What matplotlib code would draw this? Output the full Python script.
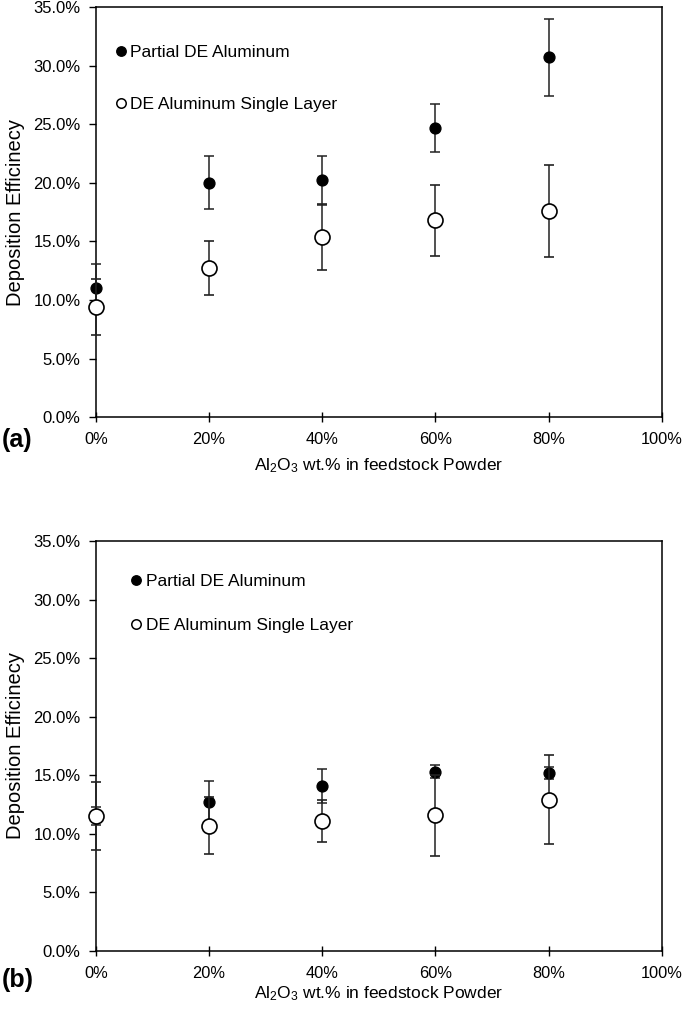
import numpy as np
import matplotlib
matplotlib.use("Agg")
import matplotlib.pyplot as plt
from matplotlib.ticker import FuncFormatter
from matplotlib.lines import Line2D

plt.rcParams['font.family'] = ['Liberation Sans', 'DejaVu Sans']
plt.rcParams['mathtext.fontset'] = 'custom'
plt.rcParams['mathtext.rm'] = 'Liberation Sans'
plt.rcParams['mathtext.it'] = 'Liberation Sans'

# Al2O3 content (%)
al2o3 = [0, 20, 40, 60, 80]

# panel (a)
partial_a = [11.0, 20.0, 20.2, 24.7, 30.7]
partial_a_err = [2.05, 2.25, 2.1, 2.05, 3.3]
single_a = [9.4, 12.75, 15.35, 16.8, 17.6]
single_a_err = [2.4, 2.3, 2.8, 3.05, 3.9]

# panel (b)
partial_b = [11.5, 12.75, 14.1, 15.3, 15.2]
partial_b_err = [0.77, 1.8, 1.45, 0.55, 0.5]
single_b = [11.55, 10.7, 11.1, 11.6, 12.9]
single_b_err = [2.9, 2.45, 1.8, 3.45, 3.8]

yticks = [0, 5, 10, 15, 20, 25, 30, 35]
xticks = [0, 20, 40, 60, 80, 100]

fig = plt.figure(figsize=(6.85, 10.10), dpi=100)
ax_a = fig.add_axes([0.140, 0.587, 0.826, 0.406])
ax_b = fig.add_axes([0.140, 0.0584, 0.826, 0.406])


def draw_panel(ax, p, pe, s, se, leg_pos, leg_space, tag, tag_off, xlab_pad):
    ax.errorbar(al2o3, p, yerr=pe, fmt='o', color='black', mfc='black', mec='black',
                ms=7.8, ecolor='#222222', elinewidth=1.1, capsize=3.9, capthick=1.1,
                zorder=3, clip_on=False)
    ax.errorbar(al2o3, s, yerr=se, fmt='o', color='black', mfc='white', mec='black',
                mew=1.2, ms=10.8, ecolor='#222222', elinewidth=1.1, capsize=3.9,
                capthick=1.1, zorder=4, clip_on=False)
    ax.set_xlim(0, 100)
    ax.set_ylim(0, 35)
    ax.set_xticks(xticks)
    ax.set_yticks(yticks)
    ax.xaxis.set_major_formatter(FuncFormatter(lambda v, _: '%d%%' % v))
    ax.yaxis.set_major_formatter(FuncFormatter(lambda v, _: '%.1f%%' % v))
    ax.tick_params(axis='y', direction='out', length=5, width=1, labelsize=12, pad=6)
    ax.tick_params(axis='x', direction='inout', length=7, width=1, labelsize=11.8, pad=7)
    for sp in ax.spines.values():
        sp.set_linewidth(1.1)
    ax.set_ylabel('Deposition Efficinecy', fontsize=14.5, labelpad=6)
    ax.set_xlabel('Al$_2$O$_3$ wt.% in feedstock Powder', fontsize=12.5, labelpad=xlab_pad)

    handles = [
        Line2D([], [], ls='none', marker='o', ms=6.8, mfc='black', mec='black'),
        Line2D([], [], ls='none', marker='o', ms=6.8, mfc='white', mec='black', mew=1.1),
    ]
    ax.legend(handles, ['Partial DE Aluminum', 'DE Aluminum Single Layer'],
              loc='upper left', bbox_to_anchor=leg_pos, frameon=False, fontsize=12.5,
              handlelength=0.6, handletextpad=0.25, labelspacing=leg_space,
              borderaxespad=0, borderpad=0)
    fig.text(0.002, ax.get_position().y0 - tag_off, tag, fontsize=18, fontweight='bold',
             ha='left', va='center')


draw_panel(ax_a, partial_a, partial_a_err, single_a, single_a_err, (0.035, 0.907), 2.1,
           '(a)', 0.0225, 7)
draw_panel(ax_b, partial_b, partial_b_err, single_b, single_b_err, (0.062, 0.919), 1.65,
           '(b)', 0.029, 3)

fig.savefig('out.png', dpi=100)
